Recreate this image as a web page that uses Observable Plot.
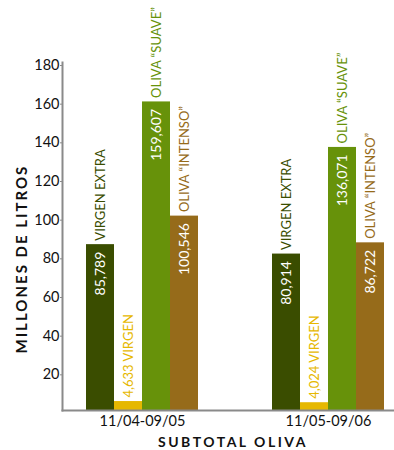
<!DOCTYPE html>
<html>
<head>
<meta charset="utf-8">
<script src="https://cdn.jsdelivr.net/npm/d3@7"></script>
<script src="https://cdn.jsdelivr.net/npm/@observablehq/plot@0.6"></script>
<style>
  body { margin: 0; background: #fff; }
  #chart svg { font-family: Lato, "Open Sans", sans-serif; }
</style>
</head>
<body>
<div id="chart"></div>
<script>
// Olive oil volumes (millions of litres) by campaign and type
const periods = ["11/04-09/05", "11/05-09/06"];
const types = ["VIRGEN EXTRA", "VIRGEN", "OLIVA “SUAVE”", "OLIVA “INTENSO”"];
const colors = ["#3a4d00", "#e6b800", "#67920a", "#966b1a"];
const millones0405 = [85.789, 4.633, 159.607, 100.546];
const millones0506 = [80.914, 4.024, 136.071, 86.722];
const yTicks = [20, 40, 60, 80, 100, 120, 140, 160, 180];
const yTitle = "MILLONES DE LITROS";
const xTitle = "SUBTOTAL OLIVA";

const rows = [millones0405, millones0506].flatMap((vals, i) =>
  vals.map((v, j) => ({ period: periods[i], type: types[j], value: v }))
);
const fmt = v => v.toFixed(3).replace(".", ",");
// value printed inside the bar (all but the small VIRGEN bar)
const inside = rows.filter(d => d.type !== "VIRGEN");
// caption above the bar; the VIRGEN bar carries its value there too
const above = rows.map(d => ({
  ...d,
  caption: d.type === "VIRGEN" ? `${fmt(d.value)} VIRGEN` : d.type
}));

const chart = Plot.plot({
  width: 394,
  height: 450,
  marginTop: 62,
  marginBottom: 40,
  marginLeft: 62,
  marginRight: 0,
  style: { fontFamily: "Lato, 'Open Sans', sans-serif", fontSize: "14px", overflow: "visible", background: "#fff" },
  fx: { domain: periods, paddingInner: 0.2204, paddingOuter: 0, label: null },
  x: { domain: types, padding: 0, insetLeft: 23, insetRight: 8, axis: null },
  y: { domain: [0, 180], axis: null },
  color: { domain: types, range: colors },
  marks: [
    Plot.barY(rows, { fx: "period", x: "type", y: "value", fill: "type" }),
    Plot.text(inside, {
      fx: "period", x: "type", y: "value", text: d => fmt(d.value),
      rotate: -90, textAnchor: "end", dy: 7, fill: "white", fontSize: 14
    }),
    Plot.text(above, {
      fx: "period", x: "type", y: "value", text: "caption",
      rotate: -90, textAnchor: "start", dy: -4, fill: "type", fontSize: 13
    }),
    Plot.frame({ anchor: "left", facet: "super", stroke: "#8a8a8a", strokeWidth: 2 }),
    Plot.frame({ anchor: "bottom", facet: "super", stroke: "#8a8a8a", strokeWidth: 2 }),
    Plot.axisY(yTicks, {
      tickSize: 2, tickPadding: 1, dy: 3, stroke: "#8a8a8a",
      color: "#111", fontSize: 14.5, label: null
    }),
    Plot.axisFx({ anchor: "bottom", tickSize: 0, tickPadding: 5, dx: 7.5, fontSize: 14.5, color: "#111", label: null }),
    Plot.text([yTitle], {
      facet: "super", frameAnchor: "left", rotate: -90, dx: -40, dy: 117,
      fontWeight: "bold", fontSize: 15, fill: "#111"
    }),
    Plot.text([xTitle], {
      facet: "super", frameAnchor: "bottom", dx: 5, dy: 36,
      fontWeight: "bold", fontSize: 14, fill: "#111"
    })
  ]
});
// widen the tracking of the two axis titles
d3.select(chart).selectAll("text")
  .filter(function () { return this.textContent === yTitle; })
  .style("letter-spacing", "2px");
d3.select(chart).selectAll("text")
  .filter(function () { return this.textContent === xTitle; })
  .style("letter-spacing", "2.5px");
document.getElementById("chart").append(chart);
</script>
</body>
</html>
